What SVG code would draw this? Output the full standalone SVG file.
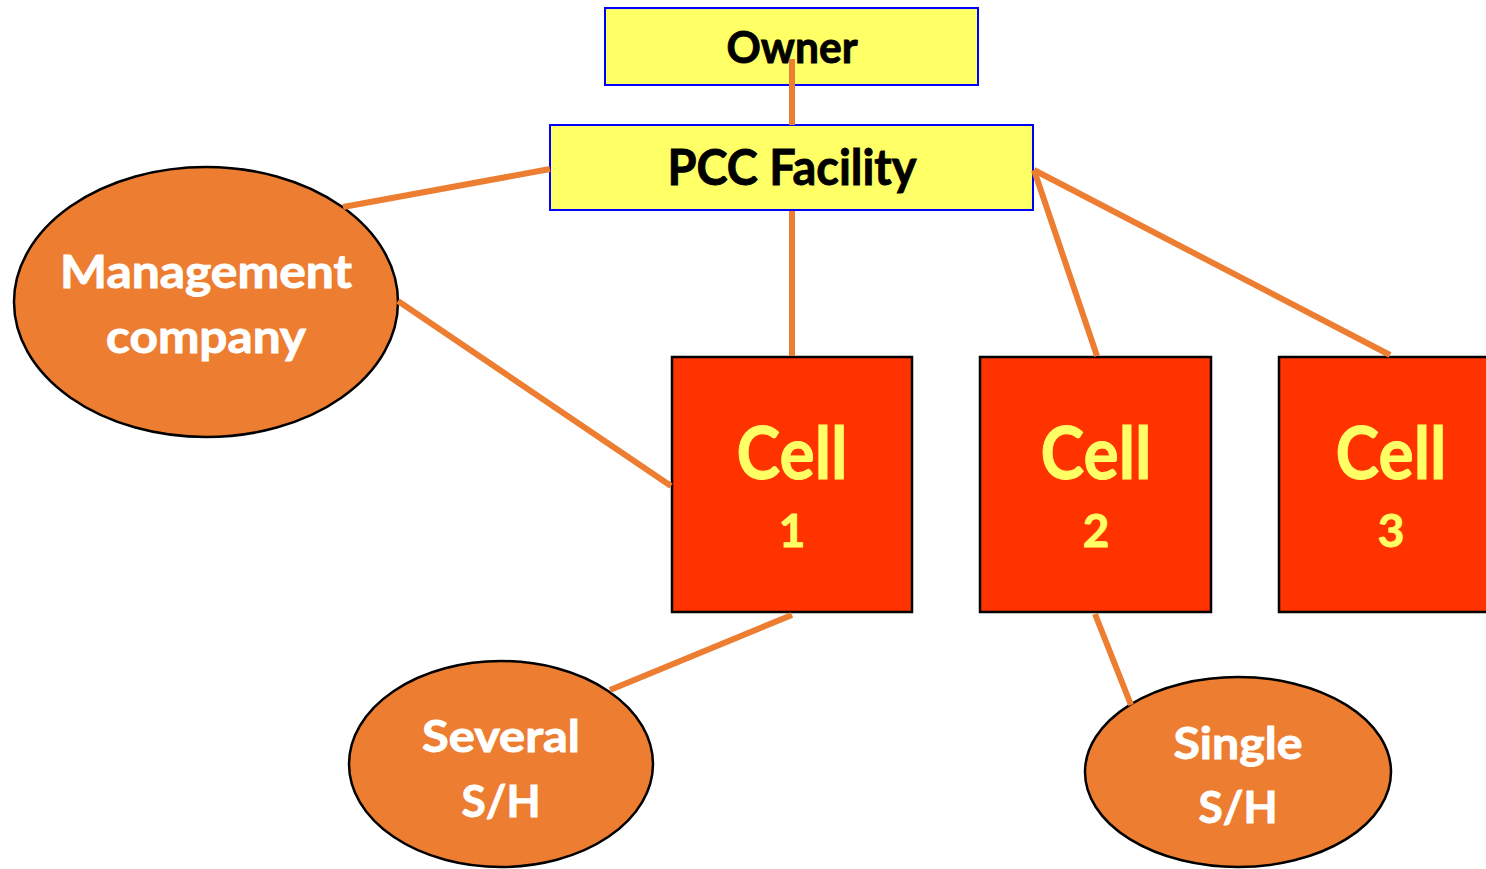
<svg xmlns="http://www.w3.org/2000/svg" width="1486" height="869" viewBox="0 0 1486 869">
  <style>
    .box { fill: #FFFF66; stroke: #0000FF; stroke-width: 2; }
    .cell { fill: #FF3300; stroke: #000000; stroke-width: 2.5; }
    .oval { fill: #ED7D31; stroke: #000000; stroke-width: 2.5; }
    .link { stroke: #ED7D31; stroke-width: 6; fill: none; }
    text { font-family: "Lato", "Open Sans", sans-serif; font-weight: bold; text-anchor: middle; stroke-width: 0.9; }
    .dark { fill: #000000; stroke: #000000; }
    .light { fill: #FFFFFF; stroke: #FFFFFF; }
    .gold { fill: #FFFF66; stroke: #FFFF66; }
  </style>
  <rect width="1486" height="869" fill="#FFFFFF"/>

  <g id="owner">
    <rect class="box" x="605" y="8" width="373" height="77"/>
    <text class="dark" x="792" y="63" font-size="43" textLength="131" lengthAdjust="spacingAndGlyphs">Owner</text>
  </g>

  <g id="pcc-facility">
    <rect class="box" x="550" y="125" width="483" height="85"/>
    <text class="dark" x="792" y="185" font-size="49" textLength="249" lengthAdjust="spacingAndGlyphs">PCC Facility</text>
  </g>

  <g id="management-company">
    <ellipse class="oval" cx="206" cy="302" rx="192" ry="135"/>
    <text class="light" x="206" y="288" font-size="45" textLength="292" lengthAdjust="spacingAndGlyphs">Management</text>
    <text class="light" x="206" y="353" font-size="45" textLength="200" lengthAdjust="spacingAndGlyphs">company</text>
  </g>

  <g id="cell-1">
    <rect class="cell" x="672" y="357" width="240" height="255"/>
    <text class="gold" x="792" y="479" font-size="72" textLength="111" lengthAdjust="spacingAndGlyphs">Cell</text>
    <text class="gold" x="792" y="547" font-size="46">1</text>
  </g>

  <g id="cell-2">
    <rect class="cell" x="980" y="357" width="231" height="255"/>
    <text class="gold" x="1096" y="479" font-size="72" textLength="111" lengthAdjust="spacingAndGlyphs">Cell</text>
    <text class="gold" x="1096" y="547" font-size="46">2</text>
  </g>

  <g id="cell-3">
    <rect class="cell" x="1279" y="357" width="240" height="255"/>
    <text class="gold" x="1391" y="479" font-size="72" textLength="111" lengthAdjust="spacingAndGlyphs">Cell</text>
    <text class="gold" x="1391" y="547" font-size="46">3</text>
  </g>

  <g id="several-sh">
    <ellipse class="oval" cx="501" cy="764" rx="152" ry="103"/>
    <text class="light" x="501" y="752" font-size="44" textLength="158" lengthAdjust="spacingAndGlyphs">Several</text>
    <text class="light" x="501" y="817" font-size="44" textLength="79" lengthAdjust="spacingAndGlyphs">S/H</text>
  </g>

  <g id="single-sh">
    <ellipse class="oval" cx="1238" cy="772" rx="153" ry="95"/>
    <text class="light" x="1238" y="759" font-size="44" textLength="129" lengthAdjust="spacingAndGlyphs">Single</text>
    <text class="light" x="1238" y="823" font-size="44" textLength="79" lengthAdjust="spacingAndGlyphs">S/H</text>
  </g>

  <g id="connectors">
    <line class="link" x1="792" y1="59" x2="792" y2="125"/>
    <line class="link" x1="550" y1="169" x2="343" y2="207"/>
    <line class="link" x1="398" y1="301" x2="671" y2="486"/>
    <line class="link" x1="792" y1="211" x2="792" y2="356"/>
    <line class="link" x1="1034" y1="170" x2="1097" y2="356"/>
    <line class="link" x1="1034" y1="170" x2="1390" y2="355"/>
    <line class="link" x1="792" y1="615" x2="610" y2="690"/>
    <line class="link" x1="1095" y1="614" x2="1131" y2="705"/>
  </g>
</svg>
